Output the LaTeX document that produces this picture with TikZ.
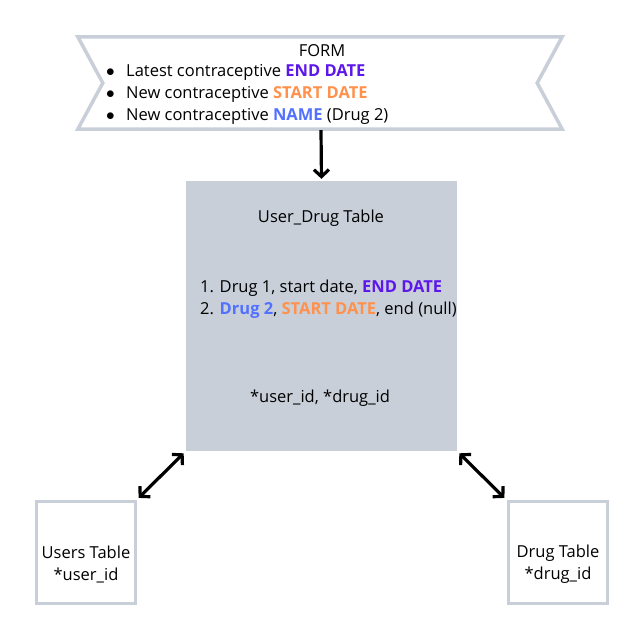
\documentclass[tikz,border=0pt]{standalone}
\usepackage{fontspec}
\setmainfont{Open Sans}
\usepackage{xcolor}
\usetikzlibrary{calc}
\usetikzlibrary{positioning}
\usetikzlibrary{arrows.meta}
\definecolor{boxgray}{HTML}{C8CFD9}
\definecolor{enddate}{HTML}{5E17EB}
\definecolor{startdate}{HTML}{FF914D}
\definecolor{drugname}{HTML}{5271FF}
\newcommand{\bul}{\makebox[20pt][l]{$\bullet$}}

\begin{document}
\begin{tikzpicture}[x=1pt,y=-1pt,font=\fontsize{16.5}{22}\selectfont,
	tablebox/.style={draw=boxgray,line width=3pt,minimum width=99pt,minimum height=102pt,inner sep=0pt},
	link/.style={line width=3.2pt,{Straight Barb[length=7pt,width=15pt]}-{Straight Barb[length=7pt,width=15pt]},shorten <=3pt,shorten >=3pt}]
	\useasboundingbox (0,0) rectangle (632,627);
	\node[minimum width=484pt,minimum height=92pt,inner sep=0pt] (form) at (320,83) {};
	\draw[boxgray,line width=3.5pt] (form.north west) -- (form.north east) -- ($(form.east)+(-25,0)$) -- (form.south east) -- (form.south west) -- ($(form.west)+(25,0)$) -- cycle;
	\node (formtitle) at (322,51) {FORM};
	\node[anchor=west,align=left,inner sep=0pt] (formlist) at (106,94) {\bul Latest contraceptive \textbf{\color{enddate}END DATE}\\
		\bul New contraceptive \textbf{\color{startdate}START DATE}\\
		\bul New contraceptive \textbf{\color{drugname}NAME} (Drug 2)};
	\node[fill=boxgray,minimum width=271pt,minimum height=270pt,inner sep=0pt] (userdrug) at (321.5,316) {};
	\node (udtitle) at (321,218) {User\_Drug Table};
	\node[anchor=west,align=left,inner sep=0pt] (udrows) at (200,299) {1. Drug 1, start date, \textbf{\color{enddate}END DATE}\\
		2. \textbf{\color{drugname}Drug 2}, \textbf{\color{startdate}START DATE}, end (null)};
	\node (udkeys) at (320,398) {*user\_id, *drug\_id};
	\node[tablebox] (users) at (85.5,552.5) {};
	\node[align=center,inner sep=0pt] (userstext) at (86,564.5) {Users Table\\*user\_id};
	\node[tablebox] (drugs) at (557.5,552.5) {};
	\node[align=center,inner sep=0pt] (drugstext) at (558,564.5) {Drug Table\\*drug\_id};
	\draw[line width=3.2pt,-{Straight Barb[length=7pt,width=15pt]},shorten >=2pt] (form.south) ++(1,1) -- (userdrug.north);
	\draw[link] (userdrug.south west) -- (users.north east);
	\draw[link] (userdrug.south east) -- (drugs.north west);
\end{tikzpicture}
\end{document}
